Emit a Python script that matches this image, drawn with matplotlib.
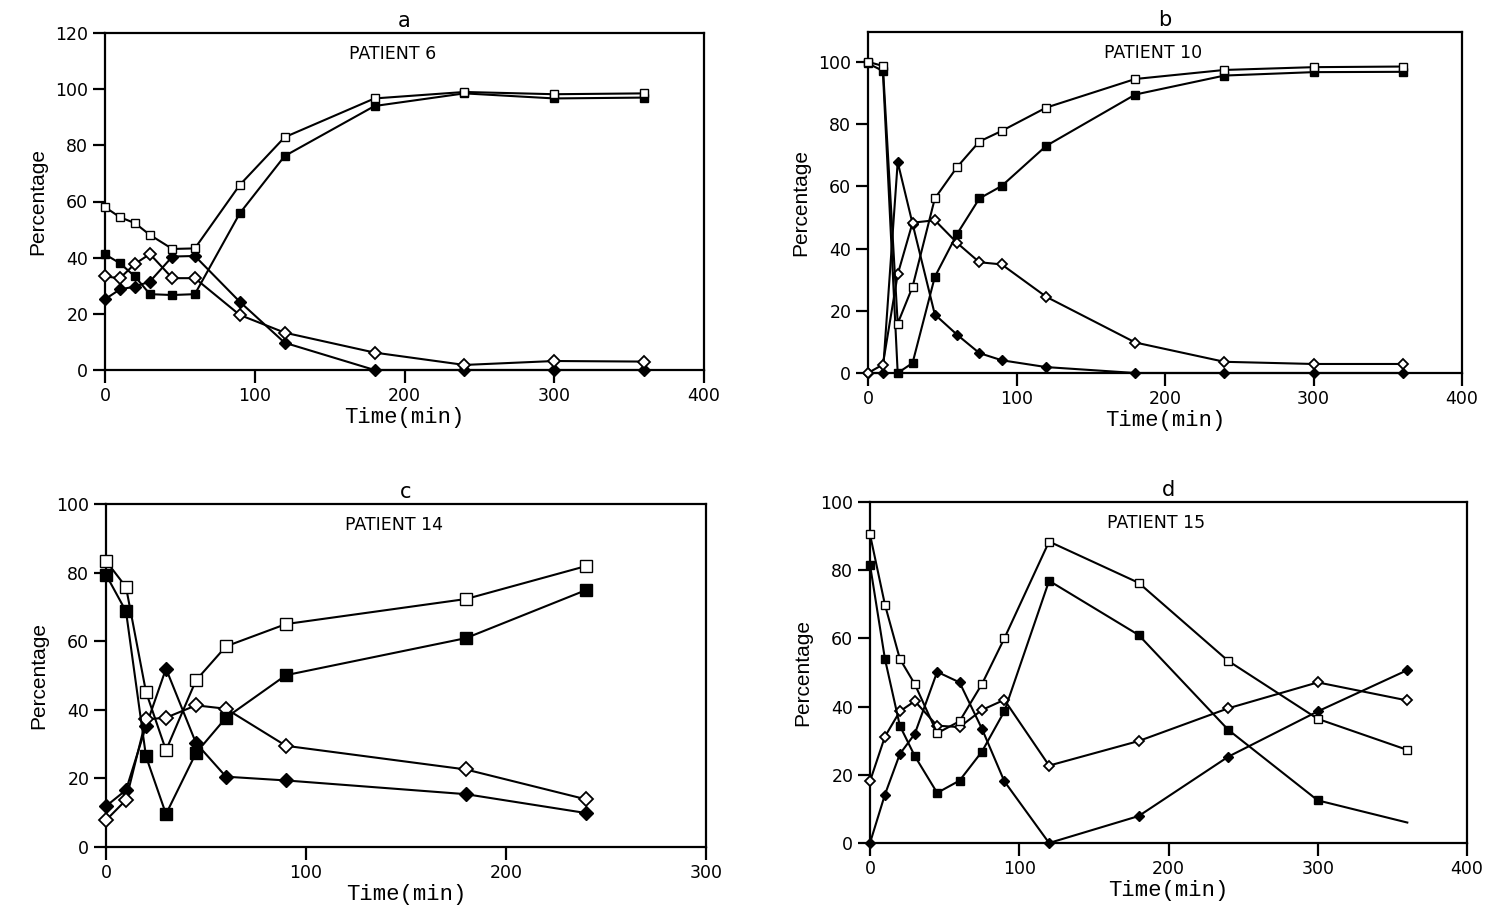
import matplotlib.pyplot as plt

# panel a - patient 6
t_a = [0, 10, 20, 30, 45, 60, 90, 120, 180, 240, 300, 360]
osq_a = [58, 54.4, 52.3, 48.1, 43.1, 43.3, 65.9, 82.9, 96.7, 99, 98.2, 98.5]
fsq_a = [41.2, 38, 33.3, 27, 26.7, 27, 55.8, 76.2, 94, 98.5, 96.7, 97]
odm_a = [33.3, 32.7, 37.8, 41.3, 32.7, 32.7, 19.6, 13.3, 6.2, 1.8, 3.2, 3]
fdm_a = [25.2, 28.7, 29.7, 31.5, 40.4, 40.6, 24.3, 9.7, 0, 0, 0, 0]

# panel b - patient 10
t_b = [0, 10, 20, 30, 45, 60, 75, 90, 120, 180, 240, 300, 360]
osq_b = [100, 98.7, 15.9, 27.7, 56.1, 66.2, 74.4, 77.8, 85.3, 94.5, 97.4, 98.3, 98.5]
fsq_b = [99.5, 97.1, 0, 3.2, 30.9, 44.7, 56.1, 60.1, 73, 89.5, 95.6, 96.7, 96.8]
odm_b = [0, 2.7, 31.7, 48.3, 49.1, 41.8, 35.6, 34.9, 24.5, 9.8, 3.6, 2.9, 2.9]
fdm_b = [0, 0, 67.8, 48, 18.8, 12.3, 6.4, 4.1, 1.9, 0, 0, 0, 0]

# panel c - patient 14
t_c = [0, 10, 20, 30, 45, 60, 90, 180, 240]
osq_c = [83.4, 75.8, 45.2, 28.2, 48.6, 58.5, 65, 72.3, 81.9]
fsq_c = [79.4, 68.7, 26.4, 9.6, 27.4, 37.7, 50.1, 60.9, 74.9]
odm_c = [7.8, 13.7, 37.2, 37.7, 41.3, 40.3, 29.5, 22.6, 13.9]
fdm_c = [11.9, 16.6, 35.2, 52, 30.3, 20.5, 19.4, 15.4, 9.9]

# panel d - patient 15
t_d = [0, 10, 20, 30, 45, 60, 75, 90, 120, 180, 240, 300, 360]
osq_d = [90.5, 69.9, 54, 46.6, 32.2, 35.7, 46.6, 60, 88.4, 76.3, 53.4, 36.4, 27.3]
fsq_d = [81.6, 54, 34.4, 25.5, 14.7, 18.3, 26.8, 38.6, 76.9, 61, 33.2, 12.5, 6]
odm_d = [18.1, 31.2, 38.6, 41.6, 34.4, 34, 39, 42, 22.7, 29.9, 39.5, 47.1, 41.8]
fdm_d = [0, 14.2, 26.1, 32, 50.2, 47.1, 33.5, 18.1, 0, 7.9, 25.3, 38.6, 50.7]

fig = plt.figure(figsize=(14.85, 9.17), dpi=100)
W, H = 1485.0, 917.0


def make_ax(l, r, top, bot):
    return fig.add_axes([l / W, 1 - bot / H, (r - l) / W, (bot - top) / H])


def panel(ax, t, osq, fsq, odm, fdm, letter, patient, xmax, ymax, yticks, ms=6.0, last_mark=True):
    me = None if last_mark else list(range(len(t) - 1))
    ax.plot(t, fdm, "-D", color="black", mfc="black", ms=ms * 0.95, lw=1.5, clip_on=False, zorder=3)
    ax.plot(t, odm, "-D", color="black", mfc="white", ms=ms * 0.95, lw=1.5, mew=1.3, clip_on=False, zorder=3)
    ax.plot(t, fsq, "-s", color="black", mfc="black", ms=ms, lw=1.5, clip_on=False, zorder=3, markevery=me)
    ax.plot(t, osq, "-s", color="black", mfc="white", ms=ms, lw=1.5, mew=1.0, clip_on=False, zorder=4)
    ax.set_xlim(0, xmax)
    ax.set_ylim(0, ymax)
    ax.set_xticks(range(0, xmax + 1, 100))
    ax.set_yticks(yticks)
    for s in ax.spines.values():
        s.set_linewidth(1.6)
    ax.tick_params(direction="out", length=9, width=1.6, labelsize=12.5, pad=3)
    ax.set_xlabel("Time(min)", family=["Liberation Mono", "DejaVu Sans Mono"], fontsize=16, labelpad=2)
    ax.set_ylabel("Percentage", family=["Liberation Sans"], fontsize=15, labelpad=6)
    ax.set_title(letter, fontsize=15, pad=4, family=["DejaVu Sans"])
    ax.text(0.48, 0.965, patient, transform=ax.transAxes, ha="center", va="top", fontsize=12.5)


ax_a = make_ax(105, 704, 33, 370)
panel(ax_a, t_a, osq_a, fsq_a, odm_a, fdm_a, "a", "PATIENT 6", 400, 120, range(0, 121, 20))

ax_b = make_ax(868, 1462, 32, 373)
panel(ax_b, t_b, osq_b, fsq_b, odm_b, fdm_b, "b", "PATIENT 10", 400, 109.6, range(0, 101, 20), ms=5.5)

ax_c = make_ax(106, 706, 504, 847)
panel(ax_c, t_c, osq_c, fsq_c, odm_c, fdm_c, "c", "PATIENT 14", 300, 100, range(0, 101, 20), ms=8.0)

ax_d = make_ax(870, 1467, 502, 843)
panel(ax_d, t_d, osq_d, fsq_d, odm_d, fdm_d, "d", "PATIENT 15", 400, 100, range(0, 101, 20), ms=5.5, last_mark=False)

fig.savefig("out.png", dpi=100)
